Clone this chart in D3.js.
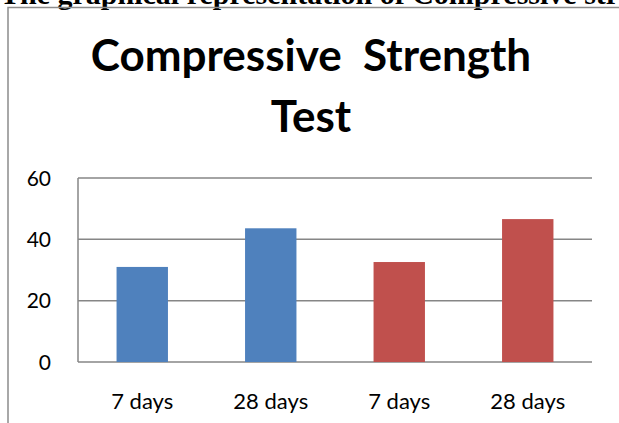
<!DOCTYPE html>
<html>
<head>
<meta charset="utf-8">
<script src="https://cdn.jsdelivr.net/npm/d3@7"></script>
<style>
  body { margin: 0; background: #fff; overflow: hidden; }
  svg { display: block; }
</style>
</head>
<body>
<div class="bar-chart"></div>
<script>
// Compressive strength bar chart

var categories = ["7 days", "28 days", "7 days", "28 days"];
var strength = [31, 43.6, 32.6, 46.6];
var series = [0, 0, 1, 1];
var series_colors = ["#4F81BD", "#C0504D"];
var y_ticks = [0, 20, 40, 60];

var width = 619, height = 423;
var margin = {top: 178, right: 27, bottom: 61, left: 78};

var svg = d3.select('.bar-chart')
    .append('svg')
        .attr('width', width)
        .attr('height', height);

// caption of the page above the chart (cut off at top)
svg.append("text")
    .attr("x", 0)
    .attr("y", 4)
    .style("font-family", "'Liberation Serif', 'Times New Roman', serif")
    .style("font-weight", "bold")
    .style("font-size", "30px")
    .text("The graphical representation of Compressive strength");

// chart frame
svg.append("path")
    .attr("d", "M8," + height + "V7.5H" + width)
    .attr("fill", "none")
    .attr("stroke", "#8c8c8c")
    .attr("stroke-width", 1.5);

var title = svg.append("text")
    .attr("text-anchor", "middle")
    .style("font-family", "Lato, 'Open Sans', sans-serif")
    .style("font-weight", "bold")
    .style("font-size", "44px");
title.append("tspan").attr("x", 311).attr("y", 71).attr("xml:space", "preserve").text("Compressive  Strength");
title.append("tspan").attr("x", 311).attr("y", 132).text("Test");

var x = d3.scaleBand()
    .domain(d3.range(categories.length))
    .range([margin.left, width - margin.right])
    .paddingInner(0.6)
    .paddingOuter(0.3);

var y = d3.scaleLinear()
    .domain([0, 60])
    .range([height - margin.bottom, margin.top]);

// gridlines
svg.selectAll(".grid")
    .data(y_ticks)
    .enter()
        .append("line")
        .attr("x1", margin.left)
        .attr("x2", width - margin.right)
        .attr("y1", function(d) { return y(d); })
        .attr("y2", function(d) { return y(d); })
        .attr("stroke", "#868686")
        .attr("stroke-width", 1.5);

svg.append("line")
    .attr("x1", margin.left).attr("x2", margin.left)
    .attr("y1", y(60)).attr("y2", y(0))
    .attr("stroke", "#868686")
    .attr("stroke-width", 1.5);

svg.selectAll(".ylab")
    .data(y_ticks)
    .enter()
        .append("text")
        .attr("x", 51)
        .attr("y", function(d) { return y(d) + 7.5; })
        .attr("text-anchor", "end")
        .style("font-family", "Lato, 'Open Sans', sans-serif")
        .style("font-size", "21px")
        .text(function(d) { return d; });

svg.selectAll(".bar")
    .data(strength)
    .enter()
        .append("rect")
        .attr("x", function(d, i) { return x(i); })
        .attr("width", x.bandwidth())
        .attr("y", function(d) { return y(d); })
        .attr("height", function(d) { return y(0) - y(d); })
        .style("fill", function(d, i) { return series_colors[series[i]]; });

svg.selectAll(".xlab")
    .data(categories)
    .enter()
        .append("text")
        .attr("x", function(d, i) { return x(i) + x.bandwidth() / 2; })
        .attr("y", 409)
        .attr("text-anchor", "middle")
        .style("font-family", "Lato, 'Open Sans', sans-serif")
        .style("font-size", "22px")
        .text(function(d) { return d; });
</script>
</body>
</html>
